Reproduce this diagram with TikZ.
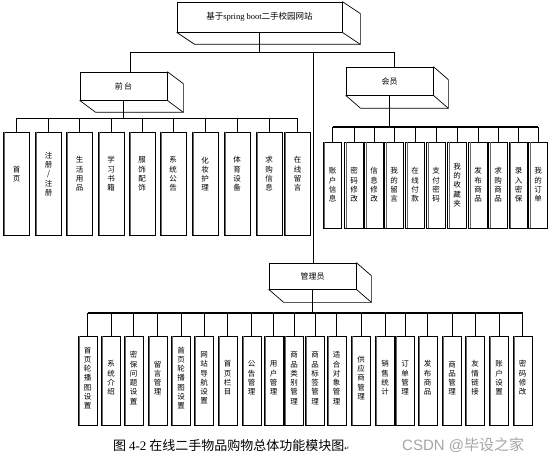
\documentclass[tikz,border=0pt]{standalone}
\usepackage{fontspec}
\setmainfont{Liberation Serif}
\newfontfamily\cjk{Noto Sans CJK SC}
\newfontfamily\dejavu{DejaVu Sans}
\newfontfamily\lsans{Liberation Sans}
\newcommand\extrude[3]{%
  \draw[line] (#1.north east) -- ++(#2,#3) |- ([shift={(#2,#3)}]#1.south west) -- (#1.south west);
  \draw[line] (#1.south east) -- ++(#2,#3);}
\begin{document}
\begin{tikzpicture}[x=1pt,y=-1pt,
  line/.style={draw=black, line width=0.7pt},
  thick line/.style={draw=black, line width=1.2pt},
  mainbox/.style={draw=black, line width=0.7pt, fill=white, inner sep=0pt, font=\cjk\fontsize{8}{9}\selectfont},
  leaf/.style={draw=black, line width=0.7pt, inner sep=0pt},
  leafedge/.style={draw=black!60, line width=0.4pt},
  leaftxt/.style={align=center, inner sep=0pt, font=\cjk\fontsize{7.5}{9.3}\selectfont}]
\useasboundingbox (0,0) rectangle (554,468);
\fill[white] (0,0) rectangle (554,468);

% main 3D boxes
\node[mainbox, minimum width=165, minimum height=30] (site) at (259.5,17)
  {\fontsize{8.5}{9}\selectfont 基于{\rmfamily spring boot}二手校园网站};
\extrude{site}{18}{12}
\node[mainbox, minimum width=87, minimum height=28] (qt) at (123.5,86) {前\,台};
\extrude{qt}{16}{12}
\node[mainbox, minimum width=87, minimum height=28] (hy) at (389.5,81) {会员};
\extrude{hy}{15}{13}
\node[mainbox, minimum width=87, minimum height=26] (gl) at (312.5,276) {管理员};
\extrude{gl}{15}{13}

% top connectors
\coordinate (top) at (259.5,52);
\coordinate (topL) at (130,52);
\coordinate (topR) at (394,52);
\coordinate (trunk) at (313,52);
\draw[line] (site.south) -- (top);
\draw[line] (topL) -- (topR);
\draw[line] (topL) -- (topL |- qt.north);
\draw[line] (topR) -- (topR |- hy.north);
\draw[line] (trunk) -- (trunk |- gl.north);

% front-end leaves
\coordinate (qbus) at (123.5,118);
\foreach \x/\t [count=\i] in {16.5/{首\\页}, 48.5/{注\\册\\/\\注\\册}, 79.5/{生\\活\\用\\品},
  111/{学\\习\\书\\籍}, 142/{服\\饰\\配\\饰}, 173/{系\\统\\公\\告}, 205/{化\\妆\\护\\理},
  237/{体\\育\\设\\备}, 269/{求\\购\\信\\息}, 297.5/{在\\线\\留\\言}} {
  \node[leaf, minimum width=26, minimum height=103] (f\i) at (\x,183.5) {};
  \draw[leafedge] ([xshift=1.5]f\i.north west) -- ([xshift=1.5]f\i.south west);
  \node[leaftxt] (ft\i) at (\x,174) {\t};
  \draw[line] (f\i.north) -- (f\i.north |- qbus);
}
\draw[line] (qt.south) -- (qbus);
\draw[line] (f1.north |- qbus) -- (f10.north |- qbus);

% member leaves
\coordinate (hbus) at (389.5,127);
\foreach \x/\t [count=\i] in {332.5/{账\\户\\信\\息}, 354/{密\\码\\修\\改}, 374/{信\\息\\修\\改},
  394/{我\\的\\留\\言}, 415/{在\\线\\付\\款}, 436/{支\\付\\密\\码}, 457/{我\\的\\收\\藏\\夹},
  478/{发\\布\\商\\品}, 498/{求\\购\\商\\品}, 518.5/{录\\入\\密\\保}, 538/{我\\的\\订\\单}} {
  \node[leaf, minimum width=18.5, minimum height=86] (h\i) at (\x,185) {};
  \draw[leafedge] ([xshift=1.5]h\i.north west) -- ([xshift=1.5]h\i.south west);
  \node[leaftxt] (ht\i) at (\x,185) {\t};
  \draw[line] (h\i.north) -- (h\i.north |- hbus);
}
\draw[thick line] (hy.south) -- (hbus);
\draw[thick line] (h1.north |- hbus) -- (h11.north |- hbus);

% admin leaves
\coordinate (gbus) at (312.5,313);
\foreach \x/\t [count=\i] in {87.5/{首\\页\\轮\\播\\图\\设\\置}, 111/{系\\统\\介\\绍},
  133.5/{密\\保\\问\\题\\设\\置}, 157.5/{留\\言\\管\\理}, 181/{首\\页\\轮\\播\\图\\设\\置},
  204/{网\\站\\导\\航\\设\\置}, 227.5/{首\\页\\栏\\目}, 251.5/{公\\告\\管\\理},
  273.5/{用\\户\\管\\理}, 294/{商\\品\\类\\别\\管\\理}, 315/{商\\品\\标\\签\\管\\理},
  336.5/{适\\合\\对\\象\\管\\理}, 361/{供\\应\\商\\管\\理}, 385/{销\\售\\统\\计},
  405/{订\\单\\管\\理}, 427.5/{发\\布\\商\\品}, 452/{商\\品\\管\\理}, 475/{友\\情\\链\\接},
  499/{账\\户\\设\\置}, 522.5/{密\\码\\修\\改}} {
  \node[leaf, minimum width=19, minimum height=89] (a\i) at (\x,380.5) {};
  \draw[leafedge] ([xshift=1.5]a\i.north west) -- ([xshift=1.5]a\i.south west);
  \node[leaftxt] (at\i) at (\x,378) {\t};
  \draw[line] (a\i.north) -- (a\i.north |- gbus);
}
\draw[thick line] (gl.south) -- (gbus);
\draw[thick line] (a1.north |- gbus) -- (a20.north |- gbus);

% caption and watermark
\node[anchor=west, inner sep=0pt, font=\cjk\fontsize{13}{15}\selectfont] (cap) at (113,446)
  {图 {\rmfamily 4-2} 在线二手物品购物总体功能模块图{\dejavu\fontsize{6}{6}\selectfont ↵}};
\node[anchor=west, inner sep=0pt, text=black!35] (wm) at (402,445)
  {\lsans\fontsize{15}{15}\selectfont CSDN @{\cjk 毕设之家}};
\end{tikzpicture}
\end{document}
